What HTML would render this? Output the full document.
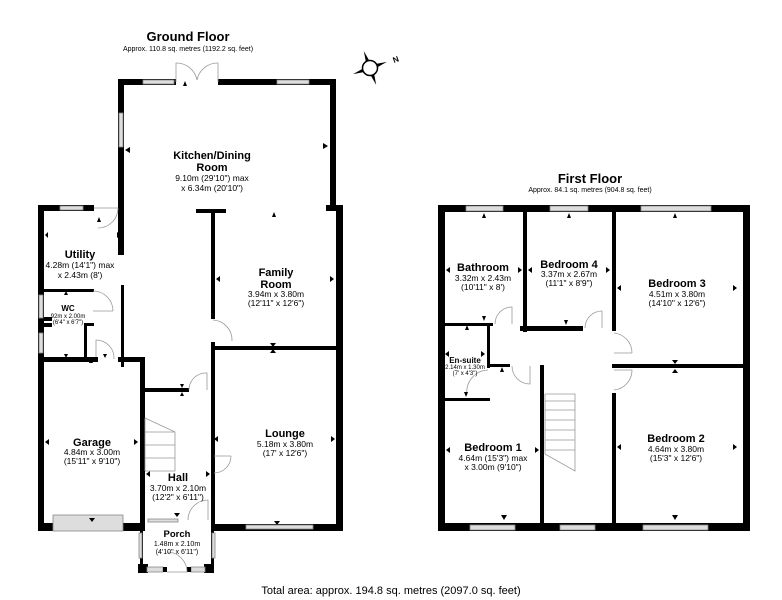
<!DOCTYPE html>
<html><head><meta charset="utf-8"><style>
html,body{margin:0;padding:0;background:#fff;}
svg{display:block;font-family:"Liberation Sans",sans-serif;}
.w{fill:#000}
.win{fill:#ddd;stroke:#888;stroke-width:0.8}
.d{fill:none;stroke:#999;stroke-width:0.8}
.t{font-weight:bold;font-size:11px;text-anchor:middle}
.s{font-size:8.5px;text-anchor:middle}
.xs{font-size:6px;text-anchor:middle}
.a{fill:#000}
</style></head><body>
<svg width="782" height="600" viewBox="0 0 782 600" xmlns="http://www.w3.org/2000/svg">
<text x="188" y="41" style="font-weight:bold;font-size:13px" text-anchor="middle">Ground Floor</text>
<text x="188" y="51" style="font-size:7px" text-anchor="middle">Approx. 110.8 sq. metres (1192.2 sq. feet)</text>
<text x="590" y="183" style="font-weight:bold;font-size:13px" text-anchor="middle">First Floor</text>
<text x="590" y="192" style="font-size:7px" text-anchor="middle">Approx. 84.1 sq. metres (904.8 sq. feet)</text>
<text x="391" y="594" style="font-size:11px" text-anchor="middle">Total area: approx. 194.8 sq. metres (2097.0 sq. feet)</text>

<g transform="translate(370,68)">
<polygon points="-2,-6 0,-18 2,-6" fill="#000" transform="rotate(-20)"/>
<polygon points="-2,-6 0,-18 2,-6" fill="#000" transform="rotate(70)"/>
<polygon points="-2,-6 0,-18 2,-6" fill="#000" transform="rotate(160)"/>
<polygon points="-2,-6 0,-18 2,-6" fill="#000" transform="rotate(250)"/>
<circle r="7.5" fill="#fff" stroke="#000" stroke-width="1.5"/>
<text x="24" y="-5" style="font-size:8px;font-weight:bold" transform="rotate(-20 24 -5)">N</text>
</g>

<!-- ===== GROUND FLOOR ===== -->
<rect class="w" x="118" y="79" width="58" height="6"/>
<rect class="win" x="143" y="80" width="31" height="4"/>
<rect class="w" x="218" y="79" width="118" height="6"/>
<rect class="win" x="277" y="80" width="32" height="4"/>
<path class="d" d="M176,82 v-19 a21,21 0 0 1 21,17 M218,82 v-19 a21,21 0 0 0 -21,17"/>
<rect class="w" x="118" y="79" width="6" height="176"/>
<rect class="win" x="119" y="113" width="4" height="34"/>
<rect class="w" x="121" y="285" width="3" height="82"/>
<rect class="w" x="330" y="79" width="6" height="130"/>
<rect class="w" x="336" y="205" width="7" height="326"/>
<rect class="w" x="326" y="205" width="10" height="6"/>
<rect class="w" x="38" y="205" width="56" height="6"/>
<rect class="win" x="60" y="206" width="23" height="4"/>
<rect class="w" x="38" y="205" width="6" height="326"/>
<rect class="win" x="39" y="295" width="4" height="23"/>
<rect class="win" x="39" y="333" width="4" height="20"/>
<path class="d" d="M94,208 h24 M118,208 a20,20 0 0 1 -20,20"/>
<rect class="w" x="44" y="289" width="50" height="3"/>
<path class="d" d="M93,291 a20,20 0 0 1 20,20 M93,311 h20"/>
<rect class="w" x="44" y="317" width="8" height="4"/>
<rect class="w" x="44" y="323" width="8" height="4"/>
<rect class="w" x="84" y="323" width="10" height="3"/>
<rect class="w" x="84" y="323" width="3" height="37"/>
<path class="d" d="M96,359 v-19 a18,18 0 0 1 18,19"/>
<rect class="w" x="38" y="357" width="60" height="5"/>
<rect class="w" x="118" y="357" width="27" height="5"/>
<rect class="w" x="140" y="357" width="5" height="174"/>
<rect class="w" x="38" y="523" width="16" height="8"/>
<rect class="w" x="122" y="523" width="22" height="8"/>
<rect class="win" x="53" y="515" width="70" height="16" fill="#f4f4f4"/>
<rect class="w" x="196" y="209" width="30" height="4"/>
<rect class="w" x="211" y="209" width="4" height="110"/>
<path class="d" d="M213,320 a20,20 0 0 1 19,21"/>
<rect class="w" x="211" y="342" width="4" height="188"/>
<rect class="w" x="213" y="346" width="125" height="4"/>
<rect class="w" x="143" y="388" width="46" height="4"/>
<path class="d" d="M189,390 a17,17 0 0 1 18,-17 v17"/>
<rect class="w" x="213" y="524" width="130" height="7"/>
<rect class="win" x="246" y="525" width="67" height="4"/>
<path class="d" d="M214,473 a17,17 0 0 0 17,-17 M214,456 h17"/>
<g class="d">
<path d="M145,418 l30,14 v39 h-30 M145,432 h30 M145,445 h30 M145,458 h30 M145,418 v53"/>
</g>
<rect class="w" x="140" y="517" width="3" height="56"/>
<rect class="w" x="211" y="517" width="3" height="56"/>
<rect class="win" x="148" y="519" width="30" height="3"/>
<path class="d" d="M188,520 a20,20 0 0 1 20,-20 v20"/>
<rect class="win" x="139" y="533" width="3" height="25"/>
<rect class="win" x="212" y="533" width="3" height="25"/>
<rect class="w" x="138" y="564" width="10" height="9"/>
<rect class="w" x="204" y="564" width="10" height="9"/>
<rect class="win" x="147" y="567" width="16" height="5"/>
<rect class="win" x="191" y="567" width="14" height="5"/>
<rect class="w" x="163" y="567" width="4" height="5"/>
<rect class="w" x="187" y="567" width="4" height="5"/>
<path class="d" d="M167,572 h20 a20,20 0 0 0 -20,-20"/>

<text class="t" x="212" y="159">Kitchen/Dining</text>
<text class="t" x="212" y="171">Room</text>
<text class="s" x="212" y="181">9.10m (29'10") max</text>
<text class="s" x="212" y="191">x 6.34m (20'10")</text>
<text class="t" x="80" y="258">Utility</text>
<text class="s" x="80" y="268">4.28m (14'1") max</text>
<text class="s" x="80" y="278">x 2.43m (8')</text>
<text x="68" y="311" style="font-weight:bold;font-size:8px" text-anchor="middle">WC</text>
<text class="xs" x="68" y="318">92m x 2.00m</text>
<text class="xs" x="68" y="324">(6'4" x 6'7")</text>
<text class="t" x="276" y="276">Family</text>
<text class="t" x="276" y="288">Room</text>
<text class="s" x="276" y="297">3.94m x 3.80m</text>
<text class="s" x="276" y="306">(12'11" x 12'6")</text>
<text class="t" x="92" y="446">Garage</text>
<text class="s" x="92" y="455">4.84m x 3.00m</text>
<text class="s" x="92" y="464">(15'11" x 9'10")</text>
<text class="t" x="285" y="437">Lounge</text>
<text class="s" x="285" y="447">5.18m x 3.80m</text>
<text class="s" x="285" y="456">(17' x 12'6")</text>
<text class="t" x="178" y="481">Hall</text>
<text class="s" x="178" y="491">3.70m x 2.10m</text>
<text class="s" x="178" y="500">(12'2" x 6'11")</text>
<text x="177" y="537" style="font-weight:bold;font-size:9.5px" text-anchor="middle">Porch</text>
<text class="xs" x="177" y="546" style="font-size:7px">1.48m x 2.10m</text>
<text class="xs" x="177" y="554" style="font-size:7px">(4'10" x 6'11")</text>

<g class="a">
<polygon points="183,86 187,86 185,81"/>
<polygon points="323,143 323,149 328,146"/>
<polygon points="130,147 130,153 125,150"/>
<polygon points="272,217 276,217 274,212"/>
<polygon points="97,222 101,222 99,217"/>
<polygon points="48,232 48,238 45,235"/>
<polygon points="117,232 117,238 121,235"/>
<polygon points="220,276 220,282 216,279"/>
<polygon points="330,276 330,282 334,279"/>
<polygon points="270,343 276,343 273,347"/>
<polygon points="270,353 276,353 273,349"/>
<polygon points="64,295 68,295 66,291"/>
<polygon points="64,354 68,354 66,358"/>
<polygon points="103,354 107,354 105,358"/>
<polygon points="89,363 93,363 91,358"/>
<polygon points="49,439 49,445 45,442"/>
<polygon points="134,439 134,445 138,442"/>
<polygon points="218,436 218,442 214,439"/>
<polygon points="331,436 331,442 335,439"/>
<polygon points="89,518 95,518 92,522"/>
<polygon points="180,384 184,384 182,388"/>
<polygon points="180,396 184,396 182,392"/>
<polygon points="150,471 150,477 146,474"/>
<polygon points="206,471 206,477 210,474"/>
<polygon points="174,513 180,513 177,517"/>
<polygon points="274,521 280,521 277,525"/>
</g>

<!-- ===== FIRST FLOOR ===== -->
<rect class="w" x="438" y="205" width="312" height="7"/>
<rect class="win" x="466" y="206" width="37" height="5"/>
<rect class="win" x="550" y="206" width="38" height="5"/>
<rect class="win" x="641" y="206" width="70" height="5"/>
<rect class="w" x="438" y="205" width="7" height="326"/>
<rect class="w" x="743" y="205" width="7" height="326"/>
<rect class="w" x="438" y="523" width="312" height="8"/>
<rect class="win" x="470" y="525" width="45" height="5"/>
<rect class="win" x="560" y="525" width="35" height="5"/>
<rect class="win" x="643" y="525" width="65" height="5"/>
<rect class="w" x="523" y="205" width="4" height="127"/>
<rect class="w" x="520" y="326" width="63" height="5"/>
<path class="d" d="M585,328 a17,17 0 0 1 17,-17 v17"/>
<rect class="w" x="612" y="205" width="4" height="126"/>
<path class="d" d="M614,333 a20,20 0 0 1 18,20 M614,353 h18"/>
<rect class="w" x="612" y="364" width="138" height="4"/>
<path class="d" d="M614,370 h18 a20,20 0 0 1 -18,20"/>
<rect class="w" x="612" y="393" width="4" height="137"/>
<rect class="w" x="445" y="323" width="48" height="3"/>
<path class="d" d="M495,324 a17,17 0 0 1 17,-17 v17"/>
<rect class="w" x="487" y="323" width="3" height="45"/>
<rect class="w" x="487" y="364" width="23" height="3"/>
<path class="d" d="M512,366 a18,18 0 0 0 18,18 v-18"/>
<rect class="w" x="445" y="398" width="45" height="3"/>
<path class="d" d="M488,370 a22,22 0 0 0 -21,25"/>
<rect class="w" x="540" y="365" width="4" height="165"/>
<g class="d">
<path d="M545,394 h30 v77 l-30,-17 M545,401 h30 M545,410 h30 M545,420 h30 M545,430 h30 M545,440 h30 M545,450 h30 M545,394 v60"/>
</g>

<text class="t" x="483" y="271">Bathroom</text>
<text class="s" x="483" y="281">3.32m x 2.43m</text>
<text class="s" x="483" y="290">(10'11" x 8')</text>
<text class="t" x="569" y="268">Bedroom 4</text>
<text class="s" x="569" y="277">3.37m x 2.67m</text>
<text class="s" x="569" y="286">(11'1" x 8'9")</text>
<text class="t" x="677" y="287">Bedroom 3</text>
<text class="s" x="677" y="297">4.51m x 3.80m</text>
<text class="s" x="677" y="306">(14'10" x 12'6")</text>
<text x="465" y="363" style="font-weight:bold;font-size:8px" text-anchor="middle">En-suite</text>
<text class="xs" x="465" y="369">2.14m x 1.30m</text>
<text class="xs" x="465" y="375">(7' x 4'3")</text>
<text class="t" x="493" y="451">Bedroom 1</text>
<text class="s" x="493" y="461">4.64m (15'3") max</text>
<text class="s" x="493" y="470">x 3.00m (9'10")</text>
<text class="t" x="676" y="442">Bedroom 2</text>
<text class="s" x="676" y="452">4.64m x 3.80m</text>
<text class="s" x="676" y="461">(15'3" x 12'6")</text>

<g class="a">
<polygon points="482,218 486,218 484,213"/>
<polygon points="567,218 571,218 569,213"/>
<polygon points="673,218 677,218 675,213"/>
<polygon points="450,267 450,273 446,270"/>
<polygon points="518,267 518,273 522,270"/>
<polygon points="532,267 532,273 528,270"/>
<polygon points="606,267 606,273 610,270"/>
<polygon points="621,285 621,291 617,288"/>
<polygon points="733,285 733,291 737,288"/>
<polygon points="482,316 486,316 484,321"/>
<polygon points="465,330 469,330 467,325"/>
<polygon points="564,320 568,320 566,325"/>
<polygon points="672,360 678,360 675,364"/>
<polygon points="672,373 678,373 675,369"/>
<polygon points="449,351 449,357 445,354"/>
<polygon points="481,351 481,357 485,354"/>
<polygon points="500,372 504,372 502,367"/>
<polygon points="464,392 468,392 466,397"/>
<polygon points="450,447 450,453 446,450"/>
<polygon points="535,447 535,453 539,450"/>
<polygon points="621,444 621,450 617,447"/>
<polygon points="733,444 733,450 737,447"/>
<polygon points="501,515 507,515 504,520"/>
<polygon points="672,515 678,515 675,520"/>
</g>
</svg>
</body></html>
